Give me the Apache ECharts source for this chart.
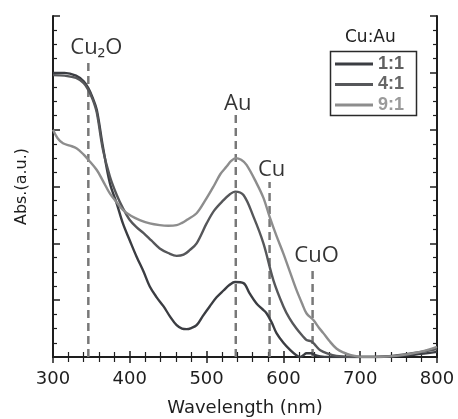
<!DOCTYPE html>
<html><head><meta charset="utf-8">
<script src="https://cdn.jsdelivr.net/npm/echarts@6/dist/echarts.min.js"></script>
<style>html,body{margin:0;padding:0;background:#fff}#c{width:458px;height:419px}</style>
</head><body><div id="c"></div>
<script>
const seriesNames = ['1:1', '4:1', '9:1'];
const wl11 = [300,315,330,340,346,352,357,365,374,383,391,400,409,418,426,435,444,452,461,468,474,480,487,495,504,513,522,530,537,548,556,565,572,578,585,591,600,609,616,622,626,630,636,640,648,660,700,740,770,800];
const abs11 = [5.00,5.00,4.95,4.85,4.73,4.55,4.35,3.70,3.06,2.70,2.35,2.05,1.76,1.50,1.24,1.05,0.89,0.72,0.56,0.50,0.49,0.51,0.56,0.72,0.89,1.05,1.17,1.27,1.32,1.30,1.12,0.94,0.85,0.77,0.60,0.42,0.25,0.12,0.04,0.00,0.03,0.065,0.065,0.04,0.01,0.00,0.00,0.01,0.04,0.09];
const wl41 = [300,315,330,340,346,352,357,365,374,383,391,400,409,418,428,439,450,461,470,478,487,500,510,522,530,537,548,561,574,587,600,608,617,625,630,637,642,648,658,669,690,720,760,800];
const abs41 = [4.96,4.95,4.91,4.82,4.70,4.52,4.30,3.65,3.18,2.85,2.62,2.41,2.28,2.18,2.05,1.91,1.83,1.78,1.80,1.88,2.00,2.35,2.58,2.76,2.86,2.91,2.85,2.47,2.00,1.35,0.89,0.68,0.50,0.37,0.30,0.27,0.20,0.12,0.06,0.02,0.00,0.00,0.05,0.14];
const wl91 = [300,306,313,322,331,340,346,357,365,374,383,391,402,413,426,439,450,461,468,474,487,498,509,518,526,532,538,545,552,565,574,582,591,600,609,617,624,630,639,646,652,660,669,678,687,704,720,747,775,800];
const abs91 = [4.00,3.85,3.76,3.72,3.67,3.56,3.47,3.29,3.10,2.88,2.72,2.59,2.48,2.41,2.35,2.32,2.31,2.32,2.36,2.41,2.53,2.75,3.00,3.22,3.35,3.45,3.50,3.47,3.38,3.06,2.80,2.47,2.13,1.82,1.48,1.18,0.95,0.77,0.65,0.52,0.42,0.28,0.15,0.08,0.035,0.00,0.00,0.02,0.08,0.18];
const peakNames = ['Cu₂O', 'Au', 'Cu', 'CuO'];
const peakWl = [346, 538, 582, 638];
const peakTop = [5.19, 4.29, 3.08, 1.57];
const xMin = 300, xMax = 800, xStep = 100;
const yMin = 0, yMax = 6, yStep = 1;
const legendTitle = 'Cu:Au';
const xName = 'Wavelength (nm)';
const yName = 'Abs.(a.u.)';

const colors = ['#3b3d42', '#56575a', '#8d8d8d'];
const textColors = ['#606060', '#666666', '#9a9a9a'];
const labelOffsets = [[8, -14], [2, -9], [2, -12], [4, -12]];

const zip = (a, b) => a.map((v, i) => [v, b[i]]);
const curves = [zip(wl11, abs11), zip(wl41, abs41), zip(wl91, abs91)];

const chart = echarts.init(document.getElementById('c'), null, {renderer: 'canvas'});
const axisLine = {show: true, lineStyle: {color: '#1e1e1e', width: 2}};
const tickStyle = {color: '#1e1e1e', width: 1.5};
const minorStyle = {color: '#1e1e1e', width: 1.2};
const series = [];
peakNames.forEach((n, i) => {
  series.push({
    type: 'line', name: 'peak' + i, xAxisIndex: 0, yAxisIndex: 0,
    data: [[peakWl[i], yMin], [peakWl[i], peakTop[i]]],
    symbol: 'none', silent: true, z: 1,
    lineStyle: {color: '#787878', width: 2.5, type: [8, 5]}
  });
});
series.push({
  type: 'scatter', name: 'peakLabels', silent: true, symbolSize: 0, z: 4,
  data: peakNames.map((n, i) => ({
    value: [peakWl[i], peakTop[i]], name: n,
    label: {offset: labelOffsets[i]}
  })),
  label: {
    show: true, position: [0, 0], align: 'center', verticalAlign: 'middle',
    formatter: p => p.name,
    fontFamily: 'Open Sans', fontSize: 22, color: '#000'
  }
});
curves.forEach((d, i) => {
  series.push({
    type: 'line', name: seriesNames[i], data: d, smooth: 0.35, symbol: 'none', z: 3,
    lineStyle: {color: colors[i], width: 2.4}, itemStyle: {color: colors[i]}
  });
});
series.push({type: 'line', name: 'frame', xAxisIndex: 1, yAxisIndex: 1, data: [], silent: true});

chart.setOption({
  animation: false,
  backgroundColor: '#fff',
  grid: {left: 53, right: 21, top: 16, bottom: 62, containLabel: false, outerBoundsMode: 'none'},
  xAxis: [{
    type: 'value', min: xMin, max: xMax, interval: xStep, position: 'bottom',
    axisLine, axisTick: {inside: true, length: 6, lineStyle: tickStyle},
    minorTick: {show: true, splitNumber: 5, length: 5, lineStyle: minorStyle},
    splitLine: {show: false},
    axisLabel: {fontFamily: 'DejaVu Sans', fontSize: 18, color: '#1e1e1e', margin: 13},
    name: xName, nameLocation: 'middle', nameGap: 42,
    nameTextStyle: {fontFamily: 'DejaVu Sans', fontSize: 18, color: '#1e1e1e'}
  }, {
    type: 'value', min: xMin, max: xMax, interval: xStep, position: 'top',
    axisLine, axisTick: {show: true, inside: true, length: 6, lineStyle: tickStyle},
    minorTick: {show: true, splitNumber: 5, length: 5, lineStyle: minorStyle},
    splitLine: {show: false}, axisLabel: {show: false}
  }],
  yAxis: [{
    type: 'value', min: yMin, max: yMax, interval: yStep, position: 'left',
    axisLine, axisTick: {inside: true, length: 7, lineStyle: tickStyle},
    minorTick: {show: true, splitNumber: 4, length: 4, lineStyle: minorStyle},
    splitLine: {show: false}, axisLabel: {show: false},
    name: yName, nameLocation: 'middle', nameGap: 23,
    nameTextStyle: {fontFamily: 'DejaVu Sans', fontSize: 16, color: '#1e1e1e'}
  }, {
    type: 'value', min: yMin, max: yMax, interval: yStep, position: 'right',
    axisLine, axisTick: {inside: true, length: 7, lineStyle: tickStyle},
    minorTick: {show: true, splitNumber: 4, length: 4, lineStyle: minorStyle},
    splitLine: {show: false}, axisLabel: {show: false}
  }],
  legend: {
    orient: 'vertical', left: 335, top: 54,
    padding: 0, itemGap: 0.5, itemWidth: 38, itemHeight: 3, icon: 'rect',
    data: seriesNames.map((n, i) => ({name: n, textStyle: {color: textColors[i]}})),
    textStyle: {fontFamily: 'Liberation Sans', fontSize: 18, fontWeight: 'bold', lineHeight: 20}
  },
  graphic: [{
    type: 'rect', left: 328, top: 49, z: 0,
    shape: {width: 86, height: 64},
    style: {fill: 'none', stroke: '#2a2a2a', lineWidth: 1.5}
  }, {
    type: 'text', left: 345, top: 29,
    style: {text: legendTitle, font: '17px "DejaVu Sans"', fill: '#222'}
  }],
  series
});
</script>
</body></html>
